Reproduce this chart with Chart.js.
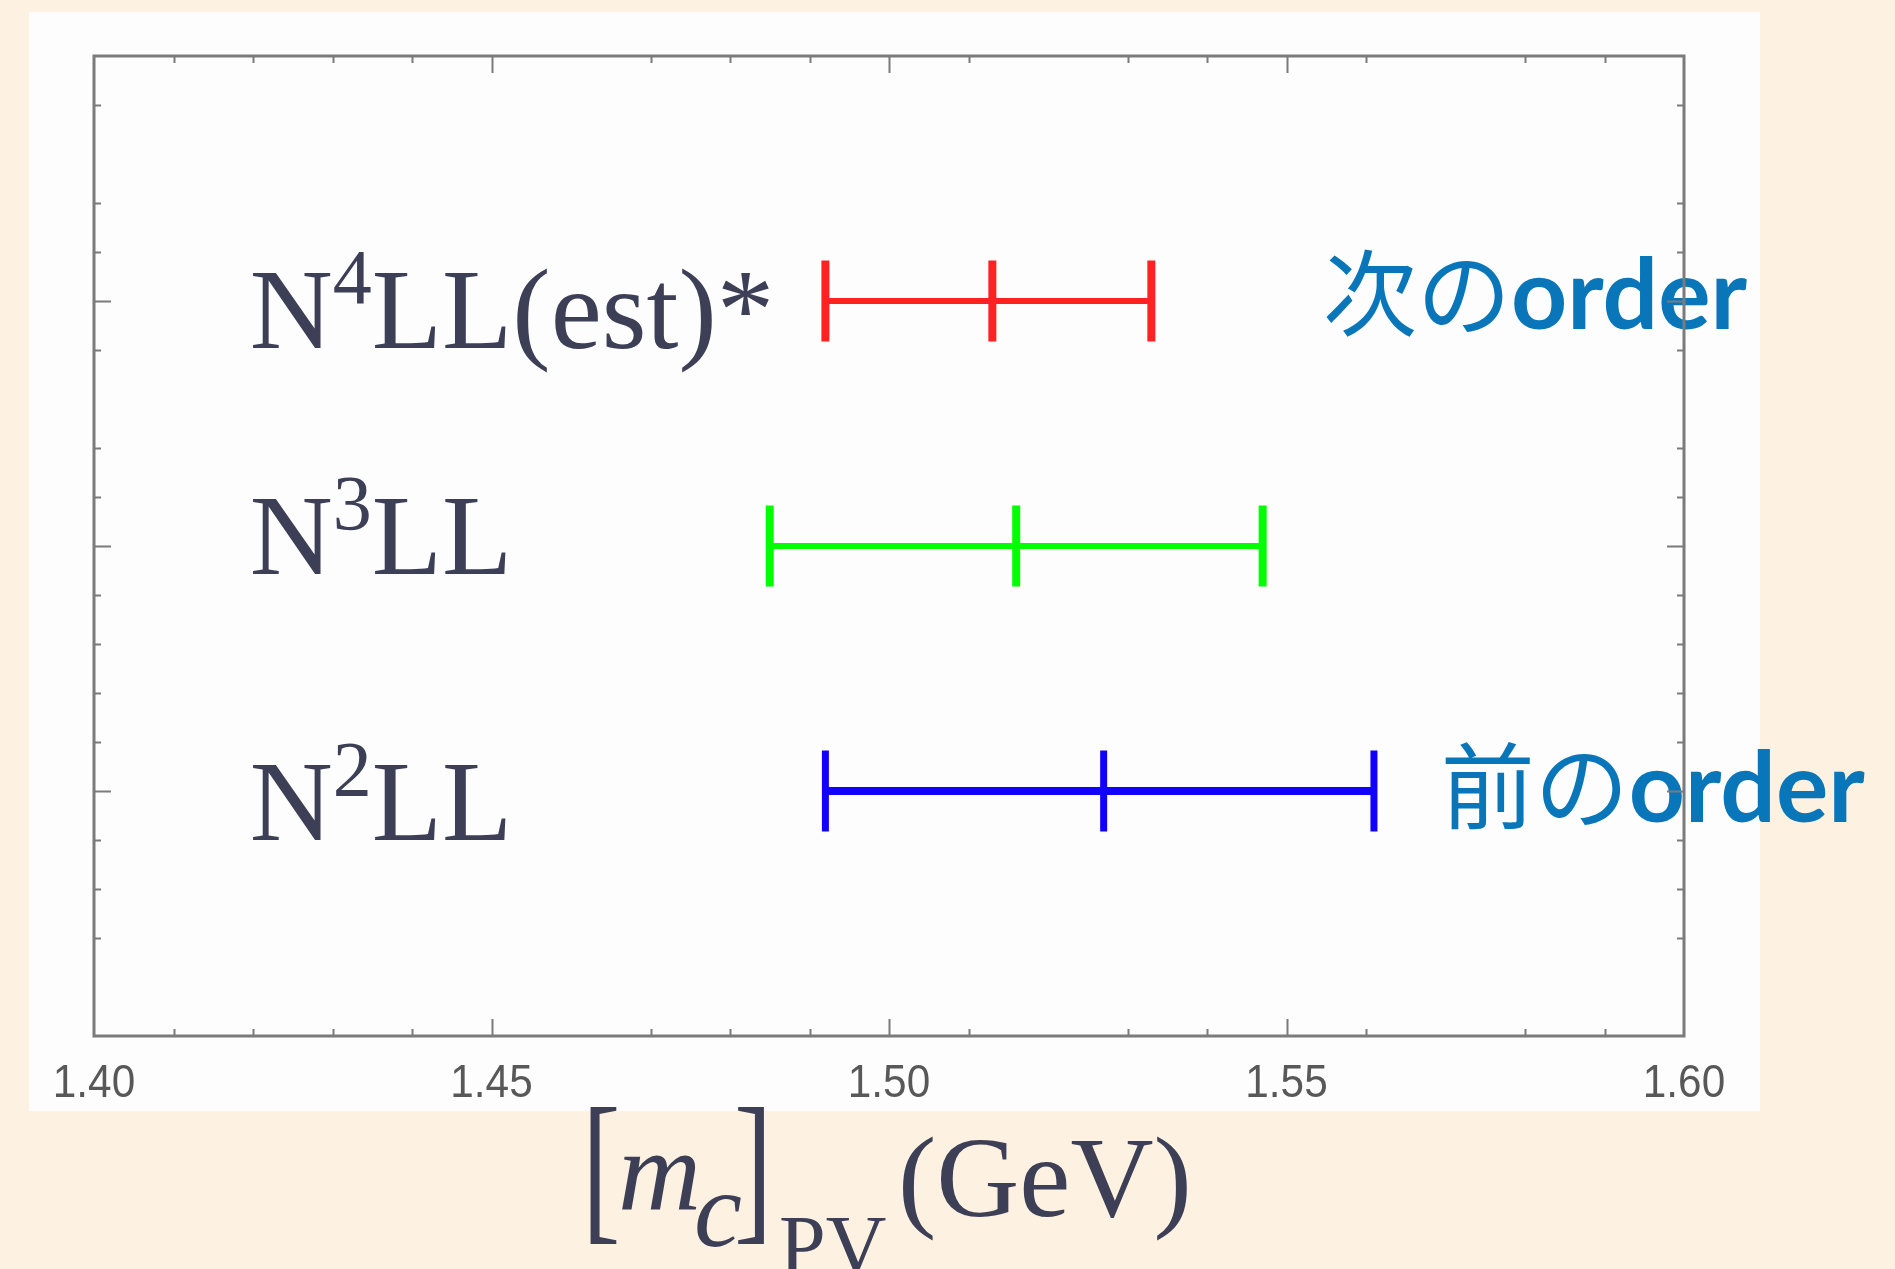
<!DOCTYPE html>
<html>
<head>
<meta charset="utf-8">
<script src="https://cdn.jsdelivr.net/npm/chart.js@4.4.0/dist/chart.umd.min.js"></script>
<style>
  html, body { margin: 0; padding: 0; background: #fdf2e1; }
  #wrap { width: 1895px; height: 1269px; position: relative; }
  canvas { display: block; }
</style>
</head>
<body>
<div id="wrap"><canvas id="mc" width="1895" height="1269" style="width:1895px;height:1269px"></canvas></div>
<script>
// Charm mass [m_c]_PV (GeV) at successive orders of the expansion
const orderBase   = ['N', 'N', 'N'];
const orderPower  = ['4', '3', '2'];
const orderSuffix = ['LL(est)*', 'LL', 'LL'];
const rowPositions = [3, 2, 1];
const lowerValues   = [1.492, 1.485, 1.492];
const centralValues = [1.513, 1.516, 1.527];
const upperValues   = [1.533, 1.547, 1.561];
const seriesColors  = ['#ff2222', '#00ff00', '#1200ff'];

// axis ticks
const xTickValues = [1.40, 1.45, 1.50, 1.55, 1.60];
const xTickLabels = ['1.40', '1.45', '1.50', '1.55', '1.60'];
const xMajorTicks = [1.45, 1.50, 1.55];
const xMinorTicks = [1.41, 1.42, 1.43, 1.44, 1.47, 1.48, 1.49, 1.51, 1.53, 1.54, 1.56, 1.58, 1.59];
const yMajorTicks = [1, 2, 3];
const yMinorTicks = [0.4, 0.6, 0.8, 1.2, 1.4, 1.6, 1.8, 2.2, 2.4, 2.8, 3.2, 3.4, 3.8];

// side notes
const noteRows   = [3, 1];
const notePrefix = ['次の', '前の'];
const noteWord   = ['order', 'order'];

const datasets = rowPositions.map((row, i) => ({
  label: orderBase[i] + orderPower[i] + orderSuffix[i],
  data: [
    { x: lowerValues[i], y: row },
    { x: centralValues[i], y: row },
    { x: upperValues[i], y: row }
  ],
  showLine: true,
  borderColor: seriesColors[i],
  borderWidth: i === 2 ? 8 : 6,
  borderCapStyle: 'butt',
  pointStyle: 'line',
  pointRotation: 90,
  pointRadius: 40.5,
  pointHoverRadius: 40.5,
  pointBorderWidth: i === 2 ? 7 : 8,
  pointBorderColor: seriesColors[i],
  pointBackgroundColor: seriesColors[i]
}));

const backdrop = {
  id: 'backdrop',
  beforeDraw(chart) {
    const ctx = chart.ctx;
    ctx.save();
    ctx.fillStyle = '#fdf2e1';
    ctx.fillRect(0, 0, chart.width, chart.height);
    ctx.fillStyle = '#fdfdfd';
    ctx.fillRect(29, 12, 1731, 1099);
    ctx.restore();
  }
};

const rowLabels = {
  id: 'rowLabels',
  beforeDatasetsDraw(chart, args, opts) {
    const { ctx, scales: { x, y } } = chart;
    ctx.save();
    ctx.fillStyle = opts.color;
    ctx.textBaseline = 'alphabetic';
    rowPositions.forEach((row, i) => {
      let px = x.getPixelForValue(opts.labelX);
      const py = y.getPixelForValue(row) + opts.baseOffsets[i];
      ctx.font = opts.size + 'px "Liberation Serif"';
      ctx.fillText(orderBase[i], px, py);
      px += ctx.measureText(orderBase[i]).width;
      ctx.font = opts.supSize + 'px "Liberation Serif"';
      ctx.fillText(orderPower[i], px, py - opts.supRise);
      px += ctx.measureText(orderPower[i]).width;
      ctx.font = opts.size + 'px "Liberation Serif"';
      ctx.fillText(orderSuffix[i], px, py);
    });
    // side notes
    ctx.fillStyle = opts.noteColor;
    noteRows.forEach((row, i) => {
      let px = x.getPixelForValue(opts.noteX[i]);
      const py = y.getPixelForValue(row) + opts.noteOffsets[i];
      ctx.font = '400 ' + opts.cjkSize + 'px "Noto Sans CJK JP"';
      ctx.fillText(notePrefix[i], px, py);
      px += ctx.measureText(notePrefix[i]).width;
      ctx.font = '700 ' + opts.wordSize + 'px Lato';
      ctx.fillText(noteWord[i], px, py);
    });
    ctx.restore();
  }
};

// inward frame ticks, the frame itself and the narrow tick numbers
const frame = {
  id: 'frame',
  afterDraw(chart, args, opts) {
    const { ctx, chartArea: a, scales: { x, y } } = chart;
    ctx.save();
    ctx.strokeStyle = opts.color;
    ctx.lineWidth = 2;
    ctx.beginPath();
    const vTick = (v, len) => {
      const px = Math.round(x.getPixelForValue(v)) + 0.5;
      ctx.moveTo(px, a.bottom); ctx.lineTo(px, a.bottom - len);
      ctx.moveTo(px, a.top); ctx.lineTo(px, a.top + len);
    };
    const hTick = (v, len) => {
      const py = Math.round(y.getPixelForValue(v)) + 0.5;
      ctx.moveTo(a.left, py); ctx.lineTo(a.left + len, py);
      ctx.moveTo(a.right, py); ctx.lineTo(a.right - len, py);
    };
    xMajorTicks.forEach(v => vTick(v, opts.major));
    xMinorTicks.forEach(v => vTick(v, opts.minor));
    yMajorTicks.forEach(v => hTick(v, opts.major));
    yMinorTicks.forEach(v => hTick(v, opts.minor));
    ctx.stroke();
    ctx.lineWidth = 3;
    ctx.strokeRect(a.left, a.top, a.right - a.left, a.bottom - a.top);

    // tick numbers
    ctx.fillStyle = opts.labelColor;
    ctx.font = opts.labelSize + 'px "Liberation Sans"';
    ctx.textAlign = 'center';
    ctx.textBaseline = 'alphabetic';
    x.ticks.forEach((t, i) => {
      const px = x.getPixelForValue(t.value);
      ctx.save();
      ctx.translate(px, opts.labelBaseline);
      ctx.scale(opts.labelSqueeze, 1);
      ctx.fillText(xTickLabels[i], 0, 0);
      ctx.restore();
    });
    ctx.restore();
  }
};

const axisTitle = {
  id: 'axisTitle',
  afterDraw(chart, args, opts) {
    const ctx = chart.ctx;
    ctx.save();
    ctx.fillStyle = opts.color;
    ctx.textBaseline = 'alphabetic';
    opts.pieces.forEach(p => {
      ctx.save();
      ctx.translate(p.x, p.y);
      ctx.scale(p.sx || 1, 1);
      ctx.font = p.font;
      ctx.fillText(p.text, 0, 0);
      ctx.restore();
    });
    ctx.restore();
  }
};

new Chart(document.getElementById('mc'), {
  type: 'scatter',
  data: { datasets },
  options: {
    responsive: false,
    animation: false,
    devicePixelRatio: 1,
    layout: { padding: { left: 94, right: 211, top: 56, bottom: 0 } },
    events: [],
    scales: {
      x: {
        type: 'linear',
        position: 'bottom',
        min: 1.40,
        max: 1.60,
        grid: { display: false, drawTicks: false },
        border: { display: false },
        afterBuildTicks: s => { s.ticks = xTickValues.map(v => ({ value: v })); },
        afterFit: s => { s.height = 233; },
        ticks: { display: false }
      },
      y: { type: 'linear', min: 0, max: 4, display: false }
    },
    plugins: {
      legend: { display: false },
      tooltip: { enabled: false },
      rowLabels: {
        color: '#3d3f57',
        labelX: 1.4196,
        baseOffsets: [47, 28, 49],
        size: 115,
        supSize: 78,
        supRise: 45,
        noteColor: '#0a76ba',
        noteX: [1.5546, 1.5694],
        noteOffsets: [28, 31],
        cjkSize: 94,
        wordSize: 98
      },
      frame: {
        color: '#7b7b7b', major: 17, minor: 7,
        labelColor: '#585858', labelSize: 47, labelSqueeze: 0.9, labelBaseline: 1097
      },
      axisTitle: {
        color: '#3d3f57',
        pieces: [
          { text: '[', font: '165px "Liberation Serif"', x: 582, y: 1222, sx: 0.7 },
          { text: 'm', font: 'italic 115px "Liberation Serif"', x: 618, y: 1209 },
          { text: 'c', font: 'italic 108px "Liberation Serif"', x: 694, y: 1246 },
          { text: ']', font: '165px "Liberation Serif"', x: 734, y: 1222, sx: 0.7 },
          { text: 'PV', font: '84px "Liberation Serif"', x: 779, y: 1274 },
          { text: '(GeV)', font: '115px "Liberation Serif"', x: 898, y: 1216 }
        ]
      }
    }
  },
  plugins: [backdrop, rowLabels, frame, axisTitle]
});
</script>
</body>
</html>
